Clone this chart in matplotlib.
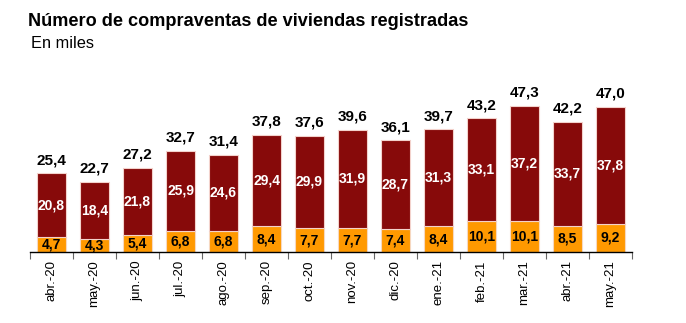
import matplotlib.pyplot as plt
import numpy as np

plt.rcParams['font.family'] = ['Liberation Sans', 'DejaVu Sans']

meses = ["abr.-20", "may.-20", "jun.-20", "jul.-20", "ago.-20", "sep.-20", "oct.-20",
         "nov.-20", "dic.-20", "ene.-21", "feb.-21", "mar.-21", "abr.-21", "may.-21"]
nuevas = [4.7, 4.3, 5.4, 6.8, 6.8, 8.4, 7.7, 7.7, 7.4, 8.4, 10.1, 10.1, 8.5, 9.2]
usadas = [20.8, 18.4, 21.8, 25.9, 24.6, 29.4, 29.9, 31.9, 28.7, 31.3, 33.1, 37.2, 33.7, 37.8]
totales = [25.4, 22.7, 27.2, 32.7, 31.4, 37.8, 37.6, 39.6, 36.1, 39.7, 43.2, 47.3, 42.2, 47.0]

naranja = "#ff9900"
granate = "#870a0a"


def fmt(v):
    return f"{v:.1f}".replace(".", ",")


fig = plt.figure(figsize=(6.86, 3.23), dpi=100)
ax = fig.add_axes([30 / 686, 71 / 323, 602 / 686, 170 / 323])

x = np.arange(len(meses))

# barras apiladas
ax.bar(x, nuevas, width=0.66, color=naranja, edgecolor="#f6d8c0", linewidth=0.8)
ax.bar(x, usadas, bottom=nuevas, width=0.66, color=granate,
       edgecolor="#f3d2cc", linewidth=0.8)

# etiquetas
for i in range(len(meses)):
    ax.text(x[i], nuevas[i] / 2, fmt(nuevas[i]), ha="center", va="center",
            fontsize=10, fontweight="bold", color="black")
    ax.text(x[i], nuevas[i] + usadas[i] / 2, fmt(usadas[i]), ha="center", va="center",
            fontsize=10, fontweight="bold", color="white")
    ax.text(x[i], totales[i] + 2.0, fmt(totales[i]), ha="center", va="bottom",
            fontsize=11, fontweight="bold", color="black")

ax.set_xlim(-0.5, len(meses) - 0.5)
ax.set_ylim(0, 55)

for s in ["top", "right", "left"]:
    ax.spines[s].set_visible(False)
ax.spines["bottom"].set_linewidth(1.0)
ax.set_yticks([])

ax.set_xticks(x)
ax.set_xticklabels(meses, rotation=90, fontsize=9.5)
ax.tick_params(axis="x", which="major", length=0, pad=6)
ax.set_xticks(np.arange(-0.5, len(meses)), minor=True)
ax.tick_params(axis="x", which="minor", length=5, width=0.8, color="#666666")

fig.text(28 / 686, 1 - 21 / 323, "Número de compraventas de viviendas registradas",
         fontsize=13.1, fontweight="bold", va="center", ha="left")
fig.text(31 / 686, 1 - 43 / 323, "En miles", fontsize=11.8, va="center", ha="left")

fig.savefig("out.png", dpi=100)
